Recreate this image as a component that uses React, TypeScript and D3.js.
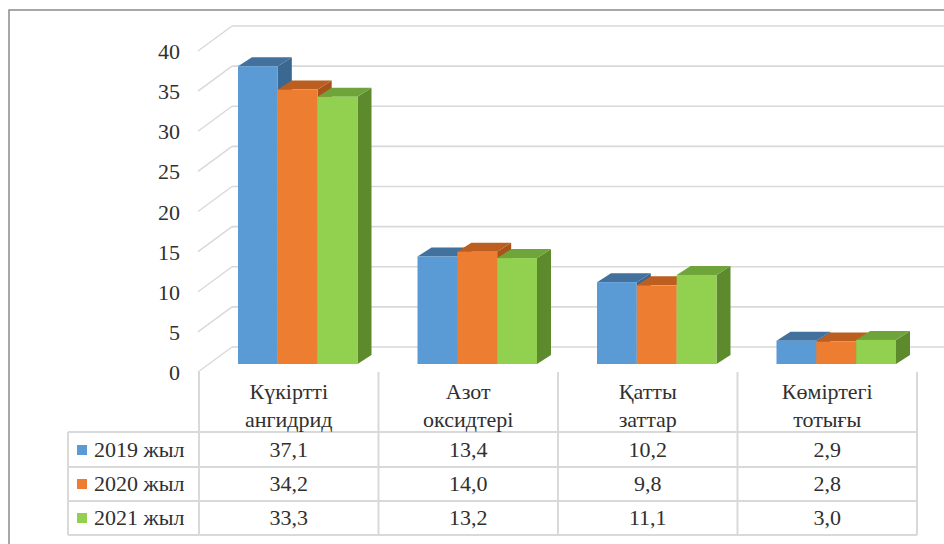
import React from "react";
import * as d3 from "d3";

const categories = [["Күкіртті", "ангидрид"], ["Азот", "оксидтері"], ["Қатты", "заттар"], ["Көміртегі", "тотығы"]];
const seriesNames = ["2019 жыл", "2020 жыл", "2021 жыл"];
const values2019 = [37.1, 13.4, 10.2, 2.9];
const values2020 = [34.2, 14.0, 9.8, 2.8];
const values2021 = [33.3, 13.2, 11.1, 3.0];
const valueLabels2019 = ["37,1", "13,4", "10,2", "2,9"];
const valueLabels2020 = ["34,2", "14,0", "9,8", "2,8"];
const valueLabels2021 = ["33,3", "13,2", "11,1", "3,0"];
const yTicks = [0, 5, 10, 15, 20, 25, 30, 35, 40];

const series = [
  { name: seriesNames[0], values: values2019, labels: valueLabels2019, front: "#5B9BD5", top: "#41719C", side: "#3A6891" },
  { name: seriesNames[1], values: values2020, labels: valueLabels2020, front: "#ED7D31", top: "#BC5E1F", side: "#A9521A" },
  { name: seriesNames[2], values: values2021, labels: valueLabels2021, front: "#92D050", top: "#6FA43A", side: "#5E8A2E" },
];

const TEXT = "#303030";
const GRID = "#D9D9D9";

function T(props: { x: number; y: number; anchor?: string; children: React.ReactNode }) {
  return (
    <text x={props.x} y={props.y + 7} textAnchor={props.anchor || "start"} fill={TEXT} fontSize={22}>
      {props.children}
    </text>
  );
}

export default function App() {
  const catIdx = categories.map((_, i) => String(i));
  const x0 = d3.scaleBand<string>().domain(catIdx).range([199, 917]).paddingInner(0).paddingOuter(0);
  const x1 = d3.scaleBand<string>().domain(series.map((s) => s.name)).range([30, x0.bandwidth() - 30]).padding(0);
  const yFront = d3.scaleLinear().domain([0, 40]).range([372, 51]);
  const yBar = d3.scaleLinear().domain([0, 40]).range([364, 43]);

  const wallDx = 34;
  const wallDy = -25;
  const barShiftX = 9;
  const depthDx = 14;
  const depthDy = -9;
  const leftX = 198;

  const rowLines = [432, 467, 501, 535];
  const rowCenters = [450, 484, 518];

  return (
    <svg width={944} height={544} style={{ position: "absolute", left: 0, top: 0 }}>
      <rect x={0} y={0} width={944} height={544} fill="#fff" />
      <rect x={9} y={10} width={1000} height={600} fill="none" stroke="#8a8a8a" strokeWidth={1.5} />

      {yTicks.map((t) => (
        <g key={"g" + t}>
          <line x1={leftX + wallDx} x2={960} y1={yFront(t) + wallDy} y2={yFront(t) + wallDy} stroke={GRID} strokeWidth={1.6} />
          <line x1={leftX} y1={yFront(t)} x2={leftX + wallDx} y2={yFront(t) + wallDy} stroke={GRID} strokeWidth={1.4} />
          <T x={180} y={yFront(t) + 1} anchor="end">
            {t}
          </T>
        </g>
      ))}

      {categories.map((_, ci) => (
        <g key={"c" + ci}>
          {series.map((s) => {
            const xl = (x0(String(ci)) as number) + (x1(s.name) as number) + barShiftX;
            const w = x1.bandwidth();
            const yb = yBar(0);
            const yt = yBar(s.values[ci]);
            const xr = xl + w;
            return (
              <g key={s.name}>
                <polygon
                  points={`${xr},${yt} ${xr + depthDx},${yt + depthDy} ${xr + depthDx},${yb + depthDy} ${xr},${yb}`}
                  fill={s.side}
                />
                <polygon
                  points={`${xl},${yt} ${xl + depthDx},${yt + depthDy} ${xr + depthDx},${yt + depthDy} ${xr},${yt}`}
                  fill={s.top}
                />
                <rect x={xl} y={yt} width={w} height={yb - yt} fill={s.front} />
              </g>
            );
          })}
        </g>
      ))}

      {rowLines.map((y) => (
        <line key={"h" + y} x1={68} x2={917} y1={y} y2={y} stroke={GRID} strokeWidth={2} />
      ))}
      <line x1={68} x2={68} y1={432} y2={535} stroke={GRID} strokeWidth={2} />
      {[...catIdx.map((c) => x0(c) as number), 917].map((x) => (
        <line key={"v" + x} x1={x} x2={x} y1={372} y2={535} stroke={GRID} strokeWidth={2} />
      ))}

      {categories.map((lines, ci) => {
        const cx = (x0(String(ci)) as number) + x0.bandwidth() / 2;
        return (
          <g key={"h" + ci}>
            <T x={cx} y={392} anchor="middle">
              {lines[0]}
            </T>
            <T x={cx} y={420} anchor="middle">
              {lines[1]}
            </T>
          </g>
        );
      })}

      {series.map((s, si) => (
        <g key={"r" + si}>
          <rect x={77} y={rowCenters[si] - 5} width={10} height={10} fill={s.front} />
          <T x={94} y={rowCenters[si]}>
            {s.name}
          </T>
          {s.labels.map((lab, ci) => (
            <T key={ci} x={(x0(String(ci)) as number) + x0.bandwidth() / 2} y={rowCenters[si]} anchor="middle">
              {lab}
            </T>
          ))}
        </g>
      ))}
    </svg>
  );
}
